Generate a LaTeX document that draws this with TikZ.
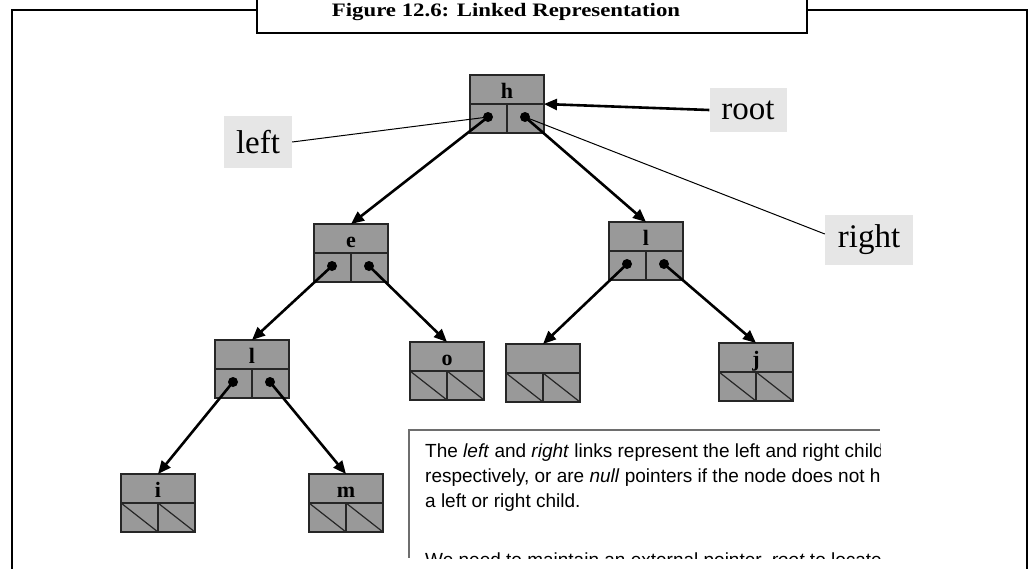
\documentclass[tikz,border=0pt]{standalone}
\usepackage{fontspec}
\usetikzlibrary{calc,arrows.meta}
\newfontfamily\lserif{Liberation Serif}
\newfontfamily\ltitle[FakeStretch=1.2]{Liberation Serif}
\newfontfamily\lsans{Liberation Sans}
\definecolor{boxfill}{HTML}{999999}
\definecolor{tagfill}{HTML}{E6E6E6}
\definecolor{rulegray}{HTML}{6E6E6E}
\tikzset{
  tbox/.style={draw=black!85, line width=1.2pt, fill=boxfill, minimum width=74pt, minimum height=58pt, inner sep=0pt, outer sep=0pt, anchor=north west},
  tline/.style={draw=black!85, line width=1.2pt},
  tlabel/.style={font=\lserif\bfseries\fontsize{22}{26}\selectfont, anchor=base, inner sep=0pt},
  ptr/.style={line width=2.6pt, -{Triangle[length=13pt,width=11pt]}},
  dotmark/.style={circle, fill=black, inner sep=0pt, minimum size=10pt},
  tag/.style={fill=tagfill, font=\lserif\fontsize{33}{38}\selectfont, inner sep=0pt},
  thinline/.style={line width=1pt},
  frameline/.style={line width=2pt},
  bodytxt/.style={anchor=base west, font=\lsans\fontsize{19}{23}\selectfont, inner sep=0pt},
}
\newcommand\tnode[4]{%
  \node[tbox] (#1) at (#2,#3) {};
  \draw[tline] ($(#1.north west)+(0,29)$) -- ($(#1.north east)+(0,29)$);
  \draw[tline] ($(#1.north)+(0,29)$) -- (#1.south);
  \node[tlabel] (#1-t) at ($(#1.north)+(0,23)$) {#4};
}
\newcommand\tdots[1]{%
  \node[dotmark] (#1-l) at ($(#1.north west)+(18,42)$) {};
  \node[dotmark] (#1-r) at ($(#1.north west)+(55,42)$) {};
}
\newcommand\tnull[1]{%
  \draw[tline] ($(#1.north west)+(0,29)$) -- (#1.south);
  \draw[tline] ($(#1.north)+(0,29)$) -- (#1.south east);
}
\begin{document}
\begin{tikzpicture}[x=1pt,y=-1pt]
\useasboundingbox (0,0) rectangle (1031,568);
% frame and title
\draw[frameline] (12,575) -- (12,10) -- (257,10);
\draw[frameline] (257,-5) -- (257,33) -- (807,33) -- (807,-5);
\draw[frameline] (807,10) -- (1027,10) -- (1027,575);
\node[font=\ltitle\bfseries\fontsize{19}{22}\selectfont, anchor=base, inner sep=0pt] (title) at (506,16) {Figure 12.6: Linked Representation};
% tree nodes
\tnode{h}{470}{75}{h}
\tnode{e}{314}{224}{e}
\tnode{r}{609}{222}{l}
\tnode{L}{215}{340}{l}
\tnode{o}{410}{342}{o}
\tnode{n}{506}{344}{}
\tnode{j}{719}{343}{j}
\tnode{i}{121}{474}{i}
\tnode{m}{309}{474}{m}
\tdots{h}\tdots{e}\tdots{r}\tdots{L}
\tnull{o}\tnull{n}\tnull{j}\tnull{i}\tnull{m}
% pointers
\draw[ptr] (h-l.center) -- (e.north);
\draw[ptr] (h-r.center) -- (r.north);
\draw[ptr] (e-l.center) -- (L.north);
\draw[ptr] (e-r.center) -- (o.north);
\draw[ptr] (r-l.center) -- (n.north);
\draw[ptr] (r-r.center) -- (j.north);
\draw[ptr] (L-l.center) -- (i.north);
\draw[ptr] (L-r.center) -- (m.north);
% tags
\node[tag, minimum width=77pt, minimum height=44pt] (root) at (748,110) {root};
\node[tag, minimum width=68pt, minimum height=52pt] (left) at (258,142) {left};
\node[tag, minimum width=88pt, minimum height=50pt] (right) at (869,240) {right};
\draw[ptr] (root.west) -- (h.east);
\draw[thinline] (left.east) -- (h-l.center);
\draw[thinline] (h-r.center) -- ($(right.west)+(0,-6)$);
% text box
\draw[draw=rulegray, line width=1.2pt] (880,430) -- (409,430) -- (409,558);
\begin{scope}
  \clip (409,431) rectangle (880,558);
  \node[bodytxt] (t1) at (425,457) {The \textit{left} and \textit{right} links represent the left and right child};
  \node[bodytxt] (t2) at (425,482) {respectively, or are \textit{null} pointers if the node does not have};
  \node[bodytxt] (t3) at (425,507) {a left or right child.};
  \node[bodytxt] (t4) at (425,566) {We need to maintain an external pointer, \textit{root} to locate the};
\end{scope}
\end{tikzpicture}
\end{document}
